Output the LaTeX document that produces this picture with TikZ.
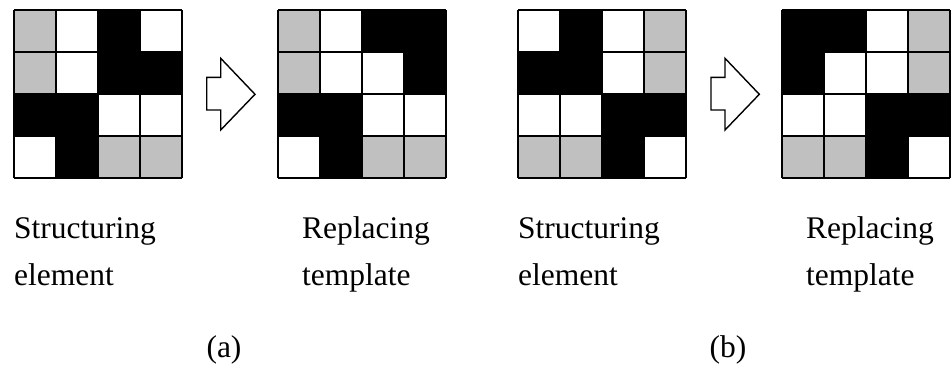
\documentclass[tikz,border=0pt]{standalone}
\usepackage{fontspec}
\setmainfont{Liberation Serif}
\definecolor{cellg}{RGB}{192,192,192}
\definecolor{cellw}{RGB}{255,255,255}
\definecolor{cellb}{RGB}{0,0,0}
\tikzset{
  gridline/.style={draw=black, line width=1.6pt},
  arrowshape/.style={draw=black, fill=white, line width=1.4pt, line join=miter},
  caption/.style={anchor=base west, inner sep=0pt, font=\fontsize{31.5}{36}\selectfont},
  sublabel/.style={anchor=base, inner sep=0pt, font=\fontsize{31.5}{36}\selectfont},
}
% \cellgrid{left}{top}{16 cell colours, row by row}
\newcommand\cellgrid[3]{%
  \foreach \c [count=\i from 0] in {#3} {
    \pgfmathtruncatemacro\col{mod(\i,4)}
    \pgfmathtruncatemacro\row{int(\i/4)}
    \fill[cell\c] ({#1+42*\col},{#2+42*\row}) rectangle ++(42,42);
  }
  \foreach \k in {0,...,4} {
    \draw[gridline] ({#1+42*\k},#2) -- ({#1+42*\k},{#2+168});
    \draw[gridline] (#1,{#2+42*\k}) -- ({#1+168},{#2+42*\k});
  }
}
% \blockarrow{left x}
\newcommand\blockarrow[1]{%
  \draw[arrowshape] (#1,77.3) -- ({#1+14},77.3) -- ({#1+14},58.3) -- ({#1+48.3},94.3)
    -- ({#1+14},130) -- ({#1+14},110) -- (#1,110) -- cycle;
}
\begin{document}
\begin{tikzpicture}[x=1pt,y=-1pt]
\useasboundingbox (0,0) rectangle (952,372);
% panel (a)
\cellgrid{14}{10}{g,w,b,w, g,w,b,b, b,b,w,w, w,b,g,g}
\blockarrow{206.7}
\cellgrid{278}{10}{g,w,b,b, g,w,w,b, b,b,w,w, w,b,g,g}
% panel (b)
\cellgrid{518}{10}{w,b,w,g, b,b,w,g, w,w,b,b, g,g,b,w}
\blockarrow{711}
\cellgrid{782}{10}{b,b,w,g, b,w,w,g, w,w,b,b, g,g,b,w}
% captions
\node[caption] (sa1) at (14,238) {Structuring};
\node[caption] (sa2) at (14,285) {element};
\node[caption] (ra1) at (302,238) {Replacing};
\node[caption] (ra2) at (302,285) {template};
\node[caption] (sb1) at (518,238) {Structuring};
\node[caption] (sb2) at (518,285) {element};
\node[caption] (rb1) at (806,238) {Replacing};
\node[caption] (rb2) at (806,285) {template};
\node[sublabel] (la) at (224,357) {(a)};
\node[sublabel] (lb) at (728,357) {(b)};
\end{tikzpicture}
\end{document}
